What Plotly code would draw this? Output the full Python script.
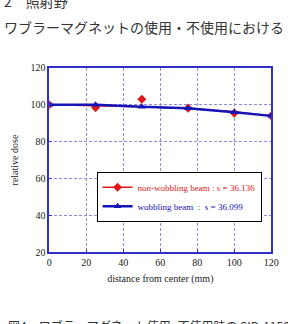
import plotly.graph_objects as go

distance = [0, 25, 50, 75, 100, 120]
non_wobbling = [100, 98.5, 103, 98.2, 95.5, 94]
wobbling = [100, 100, 99, 98.2, 96, 94]
fit_curve = [100, 99.6, 99, 98, 96.3, 94]
series_names = ["non-wobbling beam : s = 36.136", "wobbling beam  :  s = 36.099"]
x_ticks = [0, 20, 40, 60, 80, 100, 120]
y_ticks = [20, 40, 60, 80, 100, 120]
x_title = "distance from center (mm)"
y_title = "relative dose"
header_line1 = "2　照射野"
header_line2 = "ワブラーマグネットの使用・不使用における"
caption = "図4　ワブラーマグネット使用·不使用時の SID-1150"

RED = "#e01818"
BLUE = "#1414b8"
SERIF = "Liberation Serif"
JP = "Noto Sans CJK JP"

fig = go.Figure()
# red fitted curve (lies beneath the blue one); carries the legend entry
fig.add_trace(go.Scatter(
    x=distance, y=fit_curve, mode="lines+markers",
    name=f"<span style='color:{RED}'>{series_names[0]}</span>",
    legendgroup="nw",
    line=dict(color=RED, width=1.5),
    marker=dict(symbol="diamond", size=7, color=RED),
    selectedpoints=[], unselected=dict(marker=dict(opacity=0)),
))
# red measured points
fig.add_trace(go.Scatter(
    x=distance, y=non_wobbling, mode="markers",
    legendgroup="nw", showlegend=False,
    marker=dict(symbol="diamond", size=7, color=RED),
))
fig.add_trace(go.Scatter(
    x=distance, y=wobbling, mode="lines+markers",
    name=f"<span style='color:{BLUE}'>{series_names[1]}</span>",
    line=dict(color=BLUE, width=2.5),
    marker=dict(symbol="triangle-up", size=7, color=BLUE),
))

axis_common = dict(
    showline=True, linecolor="#3030c8", linewidth=1.5, mirror=True,
    ticks="inside", ticklen=3, tickcolor="#3030c8",
    showgrid=True, gridcolor="#8c8ce0", gridwidth=1, griddash="3px,2px",
    zeroline=False,
    tickfont=dict(family=SERIF, size=10, color="#222222"),
)

fig.update_layout(
    width=288, height=324,
    margin=dict(l=0, r=0, t=0, b=0),
    paper_bgcolor="white", plot_bgcolor="white",
    font=dict(family=SERIF, size=10, color="#222222"),
    showlegend=True,
    legend=dict(
        x=98/288, y=(324-172)/324, xanchor="left", yanchor="top",
        bgcolor="white", bordercolor="black", borderwidth=1,
        font=dict(family=SERIF, size=9),
        itemwidth=30, tracegroupgap=0,
    ),
    xaxis=dict(
        axis_common, domain=[49/288, 279/288], range=[0, 120],
        tickvals=x_ticks,
        title=dict(text=x_title, standoff=8, font=dict(family=SERIF, size=10, color="#222222")),
    ),
    yaxis=dict(
        axis_common, domain=[(324-255)/324, (324-65)/324], range=[20, 120],
        tickvals=y_ticks,
        title=dict(text=y_title, standoff=10, font=dict(family=SERIF, size=10, color="#222222")),
    ),
)

fig.add_annotation(text=header_line1, xref="paper", yref="paper", x=0.0, y=(324+4)/324,
                   xanchor="left", yanchor="middle", showarrow=False,
                   font=dict(family=JP, size=14, color="#333333"))
fig.add_annotation(text=header_line2, xref="paper", yref="paper", x=0.0, y=(324-23)/324,
                   xanchor="left", yanchor="middle", showarrow=False,
                   font=dict(family=JP, size=14, color="#333333"))
fig.add_annotation(text=caption, xref="paper", yref="paper", x=4/288, y=(324-331)/324,
                   xanchor="left", yanchor="middle", showarrow=False,
                   font=dict(family=JP, size=12, color="#333333"))

fig.write_html("out.html")
